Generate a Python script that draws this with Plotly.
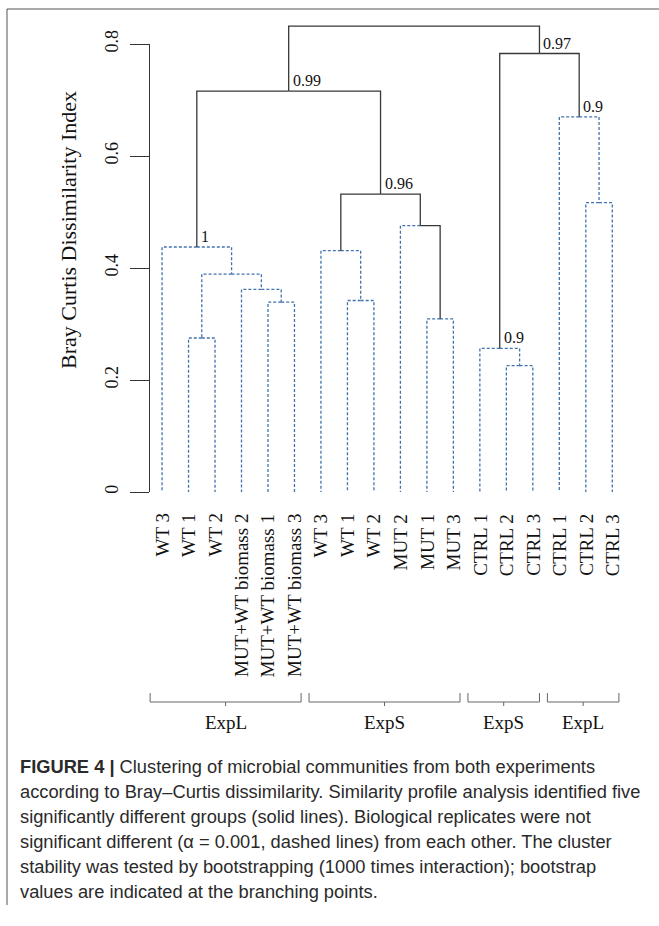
import plotly.graph_objects as go

# ---------------- data ----------------
leaf_labels = ["WT 3", "WT 1", "WT 2", "MUT+WT biomass 2", "MUT+WT biomass 1",
               "MUT+WT biomass 3", "WT 3", "WT 1", "WT 2", "MUT 2", "MUT 1", "MUT 3",
               "CTRL 1", "CTRL 2", "CTRL 3", "CTRL 1", "CTRL 2", "CTRL 3"]

# hclust-style merges: negative = leaf (1-based), positive = earlier merge (1-based)
merge_left = [-2, -5, -4, 1, -1, -8, -7, -11, -10, 7, 5, -14, -13, -17, -16, 13, 11]
merge_right = [-3, -6, 2, 3, 4, -9, 6, -12, 8, 9, 10, -15, 12, -18, 14, 15, 16]
merge_height = [0.275, 0.339, 0.362, 0.389, 0.4375, 0.342, 0.431, 0.309, 0.4756,
                0.532, 0.716, 0.2256, 0.2566, 0.5166, 0.670, 0.783, 0.832]

# merge nodes whose edge to their parent is drawn solid (significant groups)
solid_nodes = [5, 7, 8, 9, 10, 11, 13, 15, 16]

# bootstrap values at branching points
boot_nodes = [5, 10, 11, 13, 15, 16]
boot_values = ["1", "0.96", "0.99", "0.9", "0.9", "0.97"]

group_names = ["ExpL", "ExpS", "ExpS", "ExpL"]
group_first = [1, 7, 13, 16]
group_last = [6, 12, 15, 18]

y_ticks = [0, 0.2, 0.4, 0.6, 0.8]
y_title = "Bray Curtis Dissimilarity Index"

caption_lines = [
    "<b>FIGURE 4 |</b> Clustering of microbial communities from both experiments",
    "according to Bray\u2013Curtis dissimilarity. Similarity profile analysis identified five",
    "significantly different groups (solid lines). Biological replicates were not",
    "significant different (\u03b1 = 0.001, dashed lines) from each other. The cluster",
    "stability was tested by bootstrapping (1000 times interaction); bootstrap",
    "values are indicated at the branching points.",
]

# ---------------- geometry (pixel layout) ----------------
W, H = 659, 926
LEAF0_PX, LEAF_STEP = 162.05, 26.485      # leaf 1 position and spacing in px
Y0_PX, Y_SCALE = 492.0, 560.0              # px of value 0 and px per unit
x_lo = 1 - LEAF0_PX / LEAF_STEP
x_hi = x_lo + W / LEAF_STEP
y_lo = (Y0_PX - H) / Y_SCALE
y_hi = Y0_PX / Y_SCALE


def py(px):
    return (Y0_PX - px) / Y_SCALE


SERIF = "Liberation Serif, Times New Roman, serif"
SANS = "Liberation Sans, Arial, sans-serif"
SOLID_COL = "#383838"
DASH_COL = "#4173ad"

# ---------------- compute dendrogram ----------------
node_x = {}
node_h = {}


def child_pos(c):
    if c < 0:
        return float(-c), 0.0
    return node_x[c], node_h[c]


for k in range(1, len(merge_height) + 1):
    lx, _ = child_pos(merge_left[k - 1])
    rx, _ = child_pos(merge_right[k - 1])
    node_x[k] = (lx + rx) / 2
    node_h[k] = merge_height[k - 1]

sx, sy, dx, dy = [], [], [], []
for k in range(1, len(merge_height) + 1):
    px_, ph = node_x[k], node_h[k]
    for c in (merge_left[k - 1], merge_right[k - 1]):
        cx, ch = child_pos(c)
        xs = [px_, cx, cx, None]
        ys = [ph, ph, ch, None]
        if c > 0 and c in solid_nodes:
            sx += xs
            sy += ys
        else:
            dx += xs
            dy += ys

fig = go.Figure()
fig.add_trace(go.Scatter(x=dx, y=dy, mode="lines", hoverinfo="skip",
                         line=dict(color=DASH_COL, width=1.3, dash="3px,2px")))
fig.add_trace(go.Scatter(x=sx, y=sy, mode="lines", hoverinfo="skip",
                         line=dict(color=SOLID_COL, width=1.3)))
# invisible trace for the visible y axis
fig.add_trace(go.Scatter(x=[None], y=[None], yaxis="y2", hoverinfo="skip"))

# group brackets
bx, by = [], []
for f, l in zip(group_first, group_last):
    a, b = f - 0.45, l + 0.25
    m = (a + b) / 2
    bx += [a, a, b, b, None, m, m, None]
    by += [py(693), py(702), py(702), py(693), None, py(702), py(706), None]
fig.add_trace(go.Scatter(x=bx, y=by, mode="lines", hoverinfo="skip",
                         line=dict(color="#666666", width=1)))

annotations = []
# bootstrap labels
for n, v in zip(boot_nodes, boot_values):
    annotations.append(dict(x=node_x[n], y=node_h[n], text=v, showarrow=False,
                            xanchor="left", yanchor="bottom", xshift=2,
                            font=dict(family=SERIF, size=16, color="#111")))
# leaf labels
for i, lab in enumerate(leaf_labels):
    annotations.append(dict(x=i + 1, y=py(512), text=lab, showarrow=False,
                            textangle=-90, xanchor="center", yanchor="top",
                            font=dict(family=SERIF, size=19, color="#111")))
# group labels
for f, l, g in zip(group_first, group_last, group_names):
    m = ((f - 0.45) + (l + 0.25)) / 2
    annotations.append(dict(x=m, y=py(722), text=g, showarrow=False,
                            xanchor="center", yanchor="middle",
                            font=dict(family=SERIF, size=19, color="#111")))
# y title
annotations.append(dict(xref="paper", yref="paper", x=68 / W, y=1 - 230 / H,
                        text=y_title, showarrow=False, textangle=-90,
                        xanchor="center", yanchor="middle",
                        font=dict(family=SERIF, size=22, color="#111")))
# caption
for j, line in enumerate(caption_lines):
    annotations.append(dict(xref="paper", yref="paper", x=18 / W,
                            y=1 - (766 + 25 * j) / H, text=line, showarrow=False,
                            xanchor="left", yanchor="middle",
                            font=dict(family=SANS, size=18.3, color="#2a2a2a")))

shapes = [
    dict(type="line", xref="paper", yref="paper", x0=7 / W, x1=1.0,
         y0=1 - 9 / H, y1=1 - 9 / H, line=dict(color="#555", width=1)),
    dict(type="line", xref="paper", yref="paper", x0=7 / W, x1=7 / W,
         y0=1 - 9 / H, y1=1 - 905 / H, line=dict(color="#555", width=1)),
]

fig.update_layout(
    width=W, height=H,
    margin=dict(l=0, r=0, t=0, b=0, pad=0, autoexpand=False),
    paper_bgcolor="white", plot_bgcolor="rgba(0,0,0,0)", showlegend=False,
    xaxis=dict(range=[x_lo, x_hi], visible=False, domain=[0, 1], automargin=False),
    yaxis=dict(range=[y_lo, y_hi], visible=False, domain=[0, 1], automargin=False),
    yaxis2=dict(range=[0, 0.8], domain=[(H - Y0_PX) / H, (H - 44) / H],
                anchor="free", position=149 / W, showline=True, automargin=False,
                linecolor="#333", linewidth=1, ticks="outside", ticklen=19,
                tickcolor="#333", tickvals=y_ticks, ticklabelstandoff=5,
                ticktext=[("0" if t == 0 else f"{t:.1f}") for t in y_ticks],
                tickangle=-90, showgrid=False, zeroline=False,
                tickfont=dict(family=SERIF, size=18, color="#111")),
    annotations=annotations, shapes=shapes,
)

fig.write_html("out.html", config={"displayModeBar": False},
               post_script="document.body.style.margin='0';")
